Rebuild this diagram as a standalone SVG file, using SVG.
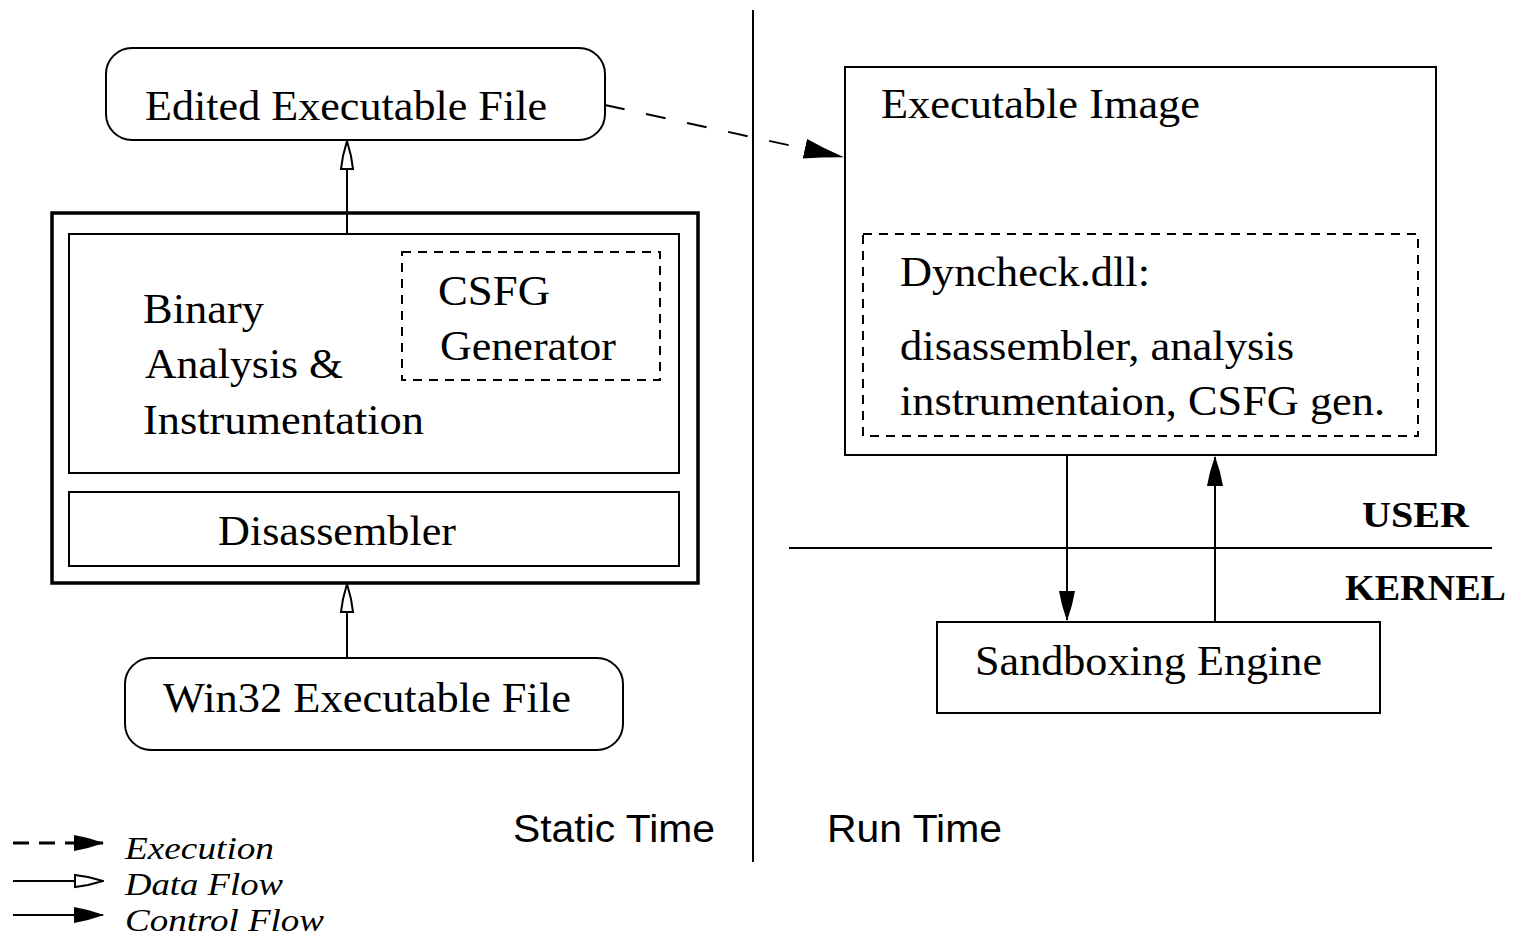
<svg xmlns="http://www.w3.org/2000/svg" width="1517" height="940" viewBox="0 0 1517 940">
<style>
.box{fill:none;stroke:#000;stroke-width:2}
.dash{fill:none;stroke:#000;stroke-width:2;stroke-dasharray:9 7}
.t{font-family:"Liberation Serif","Times New Roman",serif;font-size:43px;fill:#000}
.b{font-family:"Liberation Serif","Times New Roman",serif;font-size:35px;font-weight:bold;fill:#000}
.s{font-family:"Liberation Sans",Arial,sans-serif;font-size:38px;fill:#000}
.i{font-family:"Liberation Serif","Times New Roman",serif;font-size:32px;font-style:italic;fill:#000}
.ln{stroke:#000;stroke-width:2;fill:none}
</style>
<defs>
<marker id="open" markerWidth="30" markerHeight="16" refX="29" refY="8" viewBox="0 0 30 16" orient="auto" markerUnits="userSpaceOnUse">
<path d="M1,2 L14,4 L29,8 L14,12 L1,14 Z" fill="#fff" stroke="#000" stroke-width="2"/>
</marker>
<marker id="fill" markerWidth="30" markerHeight="16" refX="29" refY="8" viewBox="0 0 30 16" orient="auto" markerUnits="userSpaceOnUse">
<path d="M0,0 L14,3 L30,8 L14,13 L0,16 Z" fill="#000"/>
</marker>
<marker id="big" markerWidth="40" markerHeight="20" refX="39" refY="10" viewBox="0 0 40 20" orient="auto" markerUnits="userSpaceOnUse">
<path d="M0,0 L18,5 L40,10 L18,15 L0,20 Z" fill="#000"/>
</marker>
</defs>

<line class="ln" x1="753" y1="10" x2="753" y2="862"/>
<line class="ln" x1="789" y1="548" x2="1492" y2="548"/>

<g id="edited">
<rect class="box" x="106" y="48" width="499" height="92" rx="26"/>
<text class="t" x="145" y="120" textLength="402" lengthAdjust="spacingAndGlyphs">Edited Executable File</text>
</g>

<g id="tool">
<rect x="52" y="213" width="646" height="370" fill="none" stroke="#000" stroke-width="3.5"/>
</g>
<g id="bai">
<rect class="box" x="69" y="234" width="610" height="239"/>
<text class="t" x="143" y="323" textLength="121" lengthAdjust="spacingAndGlyphs">Binary</text>
<text class="t" x="145" y="378" textLength="198" lengthAdjust="spacingAndGlyphs">Analysis &amp;</text>
<text class="t" x="143" y="434" textLength="281" lengthAdjust="spacingAndGlyphs">Instrumentation</text>
</g>
<g id="csfg">
<rect class="dash" x="402" y="252" width="258" height="128"/>
<text class="t" x="438" y="305" textLength="112" lengthAdjust="spacingAndGlyphs">CSFG</text>
<text class="t" x="440" y="360" textLength="176" lengthAdjust="spacingAndGlyphs">Generator</text>
</g>
<g id="disasm">
<rect class="box" x="69" y="492" width="610" height="74"/>
<text class="t" x="218" y="545" textLength="238" lengthAdjust="spacingAndGlyphs">Disassembler</text>
</g>

<g id="win32">
<rect class="box" x="125" y="658" width="498" height="92" rx="26"/>
<text class="t" x="163" y="712" textLength="408" lengthAdjust="spacingAndGlyphs">Win32 Executable File</text>
</g>

<g id="image">
<rect class="box" x="845" y="67" width="591" height="388"/>
<text class="t" x="881" y="118" textLength="319" lengthAdjust="spacingAndGlyphs">Executable Image</text>
</g>
<g id="dyncheck">
<rect class="dash" x="863" y="234" width="555" height="202"/>
<text class="t" x="900" y="286" textLength="250" lengthAdjust="spacingAndGlyphs">Dyncheck.dll:</text>
<text class="t" x="900" y="360" textLength="394" lengthAdjust="spacingAndGlyphs">disassembler, analysis</text>
<text class="t" x="900" y="415" textLength="485" lengthAdjust="spacingAndGlyphs">instrumentaion, CSFG gen.</text>
</g>

<g id="sandbox">
<rect class="box" x="937" y="622" width="443" height="91"/>
<text class="t" x="975" y="675" textLength="347" lengthAdjust="spacingAndGlyphs">Sandboxing Engine</text>
</g>

<g id="labels">
<text class="b" x="1362" y="527" textLength="107" lengthAdjust="spacingAndGlyphs">USER</text>
<text class="b" x="1345" y="600" textLength="161" lengthAdjust="spacingAndGlyphs">KERNEL</text>
<text class="s" x="513" y="842" textLength="202" lengthAdjust="spacingAndGlyphs">Static Time</text>
<text class="s" x="827" y="842" textLength="175" lengthAdjust="spacingAndGlyphs">Run Time</text>
</g>

<g id="connectors">
<line class="ln" x1="347" y1="234" x2="347" y2="141" marker-end="url(#open)"/>
<line class="ln" x1="347" y1="658" x2="347" y2="584" marker-end="url(#open)"/>
<line class="ln" x1="605" y1="105" x2="843" y2="157" stroke-dasharray="20 22" stroke-width="3" marker-end="url(#big)"/>
<line class="ln" x1="1067" y1="455" x2="1067" y2="620" marker-end="url(#fill)"/>
<line class="ln" x1="1215" y1="622" x2="1215" y2="457" marker-end="url(#fill)"/>
</g>

<g id="legend">
<line x1="13" y1="843" x2="103" y2="843" stroke="#000" stroke-width="3" stroke-dasharray="16 10" marker-end="url(#fill)"/>
<line class="ln" x1="13" y1="881" x2="103" y2="881" marker-end="url(#open)"/>
<line class="ln" x1="13" y1="915" x2="103" y2="915" marker-end="url(#fill)"/>
<text class="i" x="125" y="859" textLength="149" lengthAdjust="spacingAndGlyphs">Execution</text>
<text class="i" x="125" y="895" textLength="158" lengthAdjust="spacingAndGlyphs">Data Flow</text>
<text class="i" x="125" y="931" textLength="199" lengthAdjust="spacingAndGlyphs">Control Flow</text>
</g>
</svg>
